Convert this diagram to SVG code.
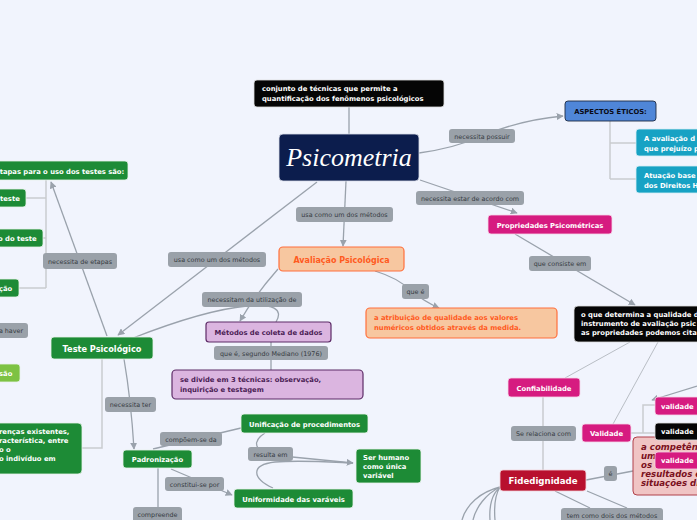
<svg xmlns="http://www.w3.org/2000/svg" width="697" height="520" viewBox="0 0 697 520">
<defs>
<marker id="arr" viewBox="0 0 10 10" refX="9" refY="5" markerWidth="7" markerHeight="7" orient="auto" markerUnits="userSpaceOnUse">
<path d="M0,0 L10,5 L0,10 z" fill="#9aa2ac"/>
</marker>
<style>
.c{fill:none;stroke:#9aa2ac;stroke-width:1.3}
.b{fill:none;stroke:#c9cbcf;stroke-width:1.5}
.lb{fill:#9aa1a9;stroke:none}
.lt{font-family:"DejaVu Sans",sans-serif;font-size:6.4px;fill:#363b42;text-anchor:middle}
.nt{font-family:"DejaVu Sans",sans-serif;font-weight:bold;font-size:6.8px;fill:#ffffff}
.ntm{text-anchor:middle}
.green{fill:#1d8b36;stroke:#e9f3ea;stroke-width:0.8}
.mag{fill:#d61b80;stroke:#f6d6e8;stroke-width:0.8}
.blk{fill:#050505;stroke:#dddddd;stroke-width:0.8}
.teal{fill:#17a2c4;stroke:#d6eef5;stroke-width:0.8}
</style>
</defs>
<rect x="0" y="0" width="697" height="520" fill="#f1f4fd"/>

<g id="connectors">
<line class="c" x1="349" y1="107" x2="349" y2="134"/>
<path class="c" d="M419,153 Q455,148 482,136 Q520,120 563,116" marker-end="url(#arr)"/>
<path class="c" d="M420,180 L517,213" marker-end="url(#arr)"/>
<path class="c" d="M515,234 L635,305" marker-end="url(#arr)"/>
<path class="c" d="M346,181 L343,246" marker-end="url(#arr)"/>
<path class="c" d="M375,271 Q398,278 410,290 Q425,302 439,308" marker-end="url(#arr)"/>
<path class="c" d="M317,182 L118,335" marker-end="url(#arr)"/>
<path class="c" d="M278,269 Q255,295 240,321" marker-end="url(#arr)"/>
<path class="c" d="M133,338 C230,300 292,296 276,322"/>
<line class="c" x1="271" y1="342" x2="271" y2="370"/>
<path class="c" d="M107,336 L51,182" marker-end="url(#arr)"/>
<path class="b" d="M46,180 L46,288 M25,198 L46,198 M43,238 L46,238 M19,288 L46,288"/>
<path class="b" d="M102,359 L102,448 L82,448"/>
<path class="c" d="M124,359 Q131,400 134,449" marker-end="url(#arr)"/>
<path class="c" d="M153,449 L241,428"/>
<path class="c" d="M265,433 C252,441 254,452 272,455 L353,463" marker-end="url(#arr)"/>
<path class="c" d="M273,488 C252,478 250,465 275,462 C300,460 330,462 353,463"/>
<path class="c" d="M171,469 L232,495" marker-end="url(#arr)"/>
<line class="c" x1="158" y1="468" x2="158" y2="507"/>
<path class="b" d="M610,121 L610,179 M610,143 L636,143 M610,179 L636,179"/>
<path class="c" style="stroke:#b9bec5;stroke-width:1" d="M630,342 L565,378"/>
<path class="c" style="stroke:#b9bec5;stroke-width:1" d="M658,342 L613,424"/>
<line class="b" x1="543" y1="396" x2="543" y2="470"/>
<path class="b" d="M631,433 L655,433 M643,433 L643,405 L655,405"/>
<path class="c" d="M697,386 L652,400" marker-end="url(#arr)"/>
<path class="c" d="M586,480 L633,471"/>
<path class="c" d="M555,491 L590,508 M587,491 L627,508"/>
<path class="c" d="M500,487 C480,492 466,505 462,520 M500,487 C486,494 476,507 473,520 M500,487 C495,495 494,508 495,520 M500,488 C492,493 489,506 490,520"/>
</g>

<g id="labels">
<rect class="lb" x="449" y="129" width="66" height="14" rx="3"/><text class="lt" x="482" y="138.5">necessita possuir</text>
<rect class="lb" x="416" y="191" width="108" height="14" rx="3"/><text class="lt" x="470" y="200.5">necessita estar de acordo com</text>
<rect class="lb" x="529" y="256" width="62" height="15" rx="3"/><text class="lt" x="560" y="266">que consiste em</text>
<rect class="lb" x="296" y="207" width="97" height="15" rx="3"/><text class="lt" x="344.5" y="217">usa como um dos métodos</text>
<rect class="lb" x="402" y="284" width="27" height="15" rx="3"/><text class="lt" x="415.5" y="294">que é</text>
<rect class="lb" x="168" y="252" width="98" height="15" rx="3"/><text class="lt" x="217" y="262">usa como um dos métodos</text>
<rect class="lb" x="202" y="292" width="100" height="15" rx="3"/><text class="lt" x="252" y="302">necessitam da utilização de</text>
<rect class="lb" x="214" y="346" width="114" height="14" rx="3"/><text class="lt" x="271" y="355.5">que é, segundo Mediano (1976)</text>
<rect class="lb" x="43" y="253" width="74" height="16" rx="3"/><text class="lt" x="80" y="263.5">necessita de etapas</text>
<rect class="lb" x="-6" y="323" width="34" height="15" rx="3"/><text class="lt" x="11" y="333">a haver</text>
<rect class="lb" x="105" y="397" width="51" height="15" rx="3"/><text class="lt" x="130.5" y="407">necessita ter</text>
<rect class="lb" x="160" y="432" width="62" height="14" rx="3"/><text class="lt" x="191" y="441.5">compõem-se da</text>
<rect class="lb" x="248" y="447" width="45" height="14" rx="3"/><text class="lt" x="270.5" y="456.5">resulta em</text>
<rect class="lb" x="165" y="477" width="59" height="14" rx="3"/><text class="lt" x="194.5" y="486.5">constitui-se por</text>
<rect class="lb" x="133" y="507" width="49" height="15" rx="3"/><text class="lt" x="157.5" y="516.5">compreende</text>
<rect class="lb" x="511" y="426" width="65" height="15" rx="3"/><text class="lt" x="543.5" y="436">Se relaciona com</text>
<rect class="lb" x="604" y="466" width="13" height="15" rx="3"/><text class="lt" x="610.5" y="476">é</text>
<rect class="lb" x="561" y="508" width="102" height="15" rx="3"/><text class="lt" x="612" y="517.5">tem como dois dos métodos</text>
</g>

<g id="psicometria">
<rect x="279" y="134" width="140" height="47" rx="4" fill="#0c1d4d" stroke="#d9dde8" stroke-width="0.8"/>
<text x="349" y="166" text-anchor="middle" font-family="'Liberation Serif',serif" font-style="italic" font-size="26" fill="#ffffff">Psicometria</text>
</g>
<g id="definicao">
<rect class="blk" x="254" y="80" width="190" height="27" rx="3"/>
<text class="nt" x="262" y="91">conjunto de técnicas que permite a</text>
<text class="nt" x="262" y="101">quantificação dos fenômenos psicológicos</text>
</g>
<g id="aspectos">
<rect x="565" y="101" width="91" height="20" rx="3" fill="#4f86d8" stroke="#1d2a44" stroke-width="0.9"/>
<text class="nt ntm" x="610.5" y="113.5" style="fill:#0a0a14">ASPECTOS ÉTICOS:</text>
</g>
<g id="etico1">
<rect class="teal" x="636" y="129" width="80" height="27" rx="3"/>
<text class="nt" x="644" y="141">A avaliação d</text>
<text class="nt" x="644" y="151">que prejuízo p</text>
</g>
<g id="etico2">
<rect class="teal" x="636" y="166" width="80" height="27" rx="3"/>
<text class="nt" x="644" y="178">Atuação base</text>
<text class="nt" x="644" y="188">dos Direitos H</text>
</g>
<g id="propriedades">
<rect class="mag" x="488" y="215" width="124" height="19" rx="3"/>
<text class="nt ntm" x="550" y="227.5">Propriedades Psicométricas</text>
</g>
<g id="qualidade">
<rect class="blk" x="574" y="306" width="140" height="36" rx="4"/>
<text class="nt" x="581" y="317">o que determina a qualidade d</text>
<text class="nt" x="581" y="326">instrumento de avaliação psic</text>
<text class="nt" x="581" y="335">as propriedades podemos cita</text>
</g>
<g id="avaliacao">
<rect x="279" y="247" width="125" height="24" rx="4" fill="#f7c7a0" stroke="#ff6f3c" stroke-width="1.2"/>
<text class="nt ntm" x="341.5" y="262.5" style="font-size:8px;fill:#ff5a1e">Avaliação Psicológica</text>
</g>
<g id="atribuicao">
<rect x="366" y="308" width="191" height="30" rx="4" fill="#f7c7a0" stroke="#ff6f3c" stroke-width="1.2"/>
<text class="nt" x="374" y="320" style="fill:#ff5a1e">a atribuição de qualidade aos valores</text>
<text class="nt" x="374" y="330" style="fill:#ff5a1e">numéricos obtidos através da medida.</text>
</g>
<g id="metodos">
<rect x="206" y="322" width="125" height="20" rx="3" fill="#dbb5e0" stroke="#5d2b67" stroke-width="1.2"/>
<text class="nt ntm" x="268.5" y="335" style="fill:#4b1d55">Métodos de coleta de dados</text>
</g>
<g id="tecnicas">
<rect x="172" y="370" width="191" height="29" rx="4" fill="#dbb5e0" stroke="#5d2b67" stroke-width="1.2"/>
<text class="nt" x="180" y="382" style="fill:#4b1d55">se divide em 3 técnicas: observação,</text>
<text class="nt" x="180" y="392" style="fill:#4b1d55">inquirição e testagem</text>
</g>
<g id="teste-psicologico">
<rect class="green" x="51" y="337" width="102" height="22" rx="3"/>
<text class="nt ntm" x="102" y="351.5" style="font-size:8.2px">Teste Psicológico</text>
</g>
<g id="etapas">
<rect class="green" x="-6" y="161" width="134" height="19" rx="3"/>
<text class="nt" x="-5" y="173.5">Etapas para o uso dos testes são:</text>
</g>
<g id="etapa1">
<rect class="green" x="-6" y="189" width="32" height="18" rx="3"/>
<text class="nt" x="0" y="200.5">teste</text>
</g>
<g id="etapa2">
<rect class="green" x="-6" y="229" width="49" height="18" rx="3"/>
<text class="nt" x="-2" y="240.5">o do teste</text>
</g>
<g id="etapa3">
<rect class="green" x="-6" y="279" width="25" height="18" rx="3"/>
<text class="nt" x="-1" y="290.5">ção</text>
</g>
<g id="sao">
<rect x="-6" y="364" width="26" height="18" rx="3" fill="#7dc243" stroke="#e9f3ea" stroke-width="0.8"/>
<text class="nt" x="-1" y="375.5">são</text>
</g>
<g id="diferencas">
<rect class="green" x="-6" y="423" width="88" height="51" rx="4"/>
<text class="nt" x="-1" y="434">renças existentes,</text>
<text class="nt" x="-1" y="443">racterística, entre</text>
<text class="nt" x="-1" y="452">o o</text>
<text class="nt" x="-1" y="461">o indivíduo em</text>
</g>
<g id="padronizacao">
<rect class="green" x="123" y="450" width="69" height="18" rx="3"/>
<text class="nt ntm" x="157.5" y="461.5">Padronização</text>
</g>
<g id="unificacao">
<rect class="green" x="241" y="414" width="127" height="19" rx="3"/>
<text class="nt ntm" x="304.5" y="426.5">Unificação de procedimentos</text>
</g>
<g id="ser-humano">
<rect class="green" x="356" y="449" width="65" height="34" rx="3"/>
<text class="nt" x="363" y="460">Ser humano</text>
<text class="nt" x="363" y="469">como única</text>
<text class="nt" x="363" y="478">variável</text>
</g>
<g id="uniformidade">
<rect class="green" x="234" y="489" width="119" height="19" rx="3"/>
<text class="nt ntm" x="293.5" y="501.5">Uniformidade das varáveis</text>
</g>
<g id="confiabilidade">
<rect class="mag" x="508" y="378" width="72" height="19" rx="3"/>
<text class="nt ntm" x="544" y="390.5">Confiabilidade</text>
</g>
<g id="validade">
<rect class="mag" x="582" y="424" width="49" height="18" rx="3"/>
<text class="nt ntm" x="606.5" y="435.5">Validade</text>
</g>
<g id="fidedignidade">
<rect x="500" y="470" width="86" height="21" rx="3" fill="#b8102e" stroke="#f3d3d9" stroke-width="0.8"/>
<text class="nt ntm" x="543" y="484" style="font-size:8.6px">Fidedignidade</text>
</g>
<g id="competencia">
<rect x="633" y="437" width="80" height="58" rx="4" fill="#f0c4c4" stroke="#b0404a" stroke-width="1"/>
<text x="641" y="450" font-family="'DejaVu Sans',sans-serif" font-weight="bold" font-style="italic" font-size="8.6" fill="#7a1020">a competênc</text>
<text x="641" y="459" font-family="'DejaVu Sans',sans-serif" font-weight="bold" font-style="italic" font-size="8.6" fill="#7a1020">um</text>
<text x="641" y="468" font-family="'DejaVu Sans',sans-serif" font-weight="bold" font-style="italic" font-size="8.6" fill="#7a1020">os i</text>
<text x="641" y="477" font-family="'DejaVu Sans',sans-serif" font-weight="bold" font-style="italic" font-size="8.6" fill="#7a1020">resultados e</text>
<text x="641" y="486" font-family="'DejaVu Sans',sans-serif" font-weight="bold" font-style="italic" font-size="8.6" fill="#7a1020">situações di</text>
</g>
<g id="validade1">
<rect class="mag" x="655" y="397" width="60" height="18" rx="3"/>
<text class="nt" x="661" y="408.5">validade</text>
</g>
<g id="validade2">
<rect class="blk" x="655" y="423" width="60" height="17" rx="3"/>
<text class="nt" x="661" y="434">validade</text>
</g>
<g id="validade3">
<rect class="mag" x="655" y="452" width="60" height="17" rx="3"/>
<text class="nt" x="661" y="463">validade</text>
</g>
</svg>
